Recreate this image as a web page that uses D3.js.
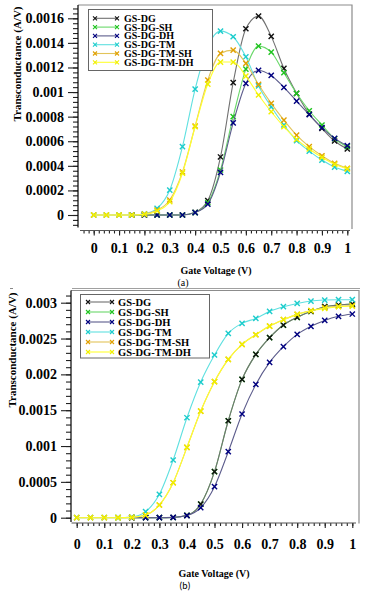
<!DOCTYPE html>
<html>
<head>
<meta charset="utf-8">
<script src="https://cdn.jsdelivr.net/npm/d3@7"></script>
<style>
  body { margin: 0; background: #fff; }
  svg { display: block; }
  text { font-family: "Liberation Serif", "Times New Roman", serif; font-weight: bold; fill: #000; }
</style>
</head>
<body>
<div id="vis"></div>
<script>
// gate voltage samples (V)
const voltage = [0, 0.05, 0.1, 0.15, 0.2, 0.25, 0.3, 0.35, 0.4, 0.45, 0.5, 0.55, 0.6, 0.65, 0.7, 0.75, 0.8, 0.85, 0.9, 0.95, 1]

const seriesNames = ['GS-DG', 'GS-DG-SH', 'GS-DG-DH', 'GS-DG-TM', 'GS-DG-TM-SH', 'GS-DG-TM-DH']

// (a) transconductance (A/V)
const topDG   = [null, null, null, 0, 0, 0, 0, 0, 0.000022, 0.000117, 0.000472, 0.001076, 0.001515, 0.001618, 0.001453, 0.001192, 0.00099, 0.00082, 0.000705, 0.000602, 0.000537]
const topSH   = [null, null, null, 0, 0, 0, 0, 0, 0.00002, 0.0001, 0.000366, 0.0008, 0.001187, 0.001374, 0.001325, 0.001157, 0.00099, 0.000848, 0.000732, 0.00062, 0.000555]
const topDH   = [null, null, null, 0, 0, 0, 0, 0, 0.00002, 0.000089, 0.000347, 0.00075, 0.00107, 0.001176, 0.001135, 0.001038, 0.000927, 0.000816, 0.00071, 0.000623, 0.000564]
const topTM   = [0, 0, 0, 0, 0.00001, 0.000054, 0.000203, 0.000556, 0.001024, 0.001369, 0.001496, 0.00145, 0.001287, 0.00105, 0.00088, 0.000732, 0.000605, 0.00052, 0.000447, 0.00039, 0.000355]
const topTMSH = [0, 0, 0, 0, 0.000008, 0.00004, 0.000122, 0.00035, 0.000724, 0.001098, 0.001314, 0.001341, 0.001233, 0.001062, 0.000908, 0.000772, 0.00065, 0.000556, 0.000482, 0.00042, 0.000379]
const topTMDH = [0, 0, 0, 0, 0.000005, 0.000033, 0.000108, 0.00034, 0.000718, 0.001065, 0.001244, 0.001244, 0.00113, 0.000976, 0.00084, 0.000718, 0.000615, 0.000537, 0.000469, 0.000412, 0.000375]

// (b) transconductance (A/V)
const botDG   = [null, null, null, null, 0, 0, 0, 0.000003, 0.000033, 0.00019, 0.000642, 0.001353, 0.00193, 0.002279, 0.002512, 0.002688, 0.002795, 0.00288, 0.002944, 0.002967, 0.002981]
const botSH   = [null, null, null, 0, 0, 0, 0, 0.000003, 0.000033, 0.00019, 0.000642, 0.001353, 0.00193, 0.002279, 0.002512, 0.002688, 0.002795, 0.00288, 0.002944, 0.002967, 0.002981]
const botDH   = [null, null, null, null, 0, 0, 0, 0.000005, 0.00003, 0.00014, 0.000433, 0.000921, 0.001447, 0.00186, 0.002167, 0.002386, 0.002558, 0.00267, 0.002753, 0.00281, 0.002842]
const botTM   = [0, 0, 0, 0, 0.00001, 0.000084, 0.000326, 0.000805, 0.001395, 0.001893, 0.00227, 0.002572, 0.002712, 0.002781, 0.002879, 0.002944, 0.00299, 0.003023, 0.003037, 0.003042, 0.003042]
const botTMSH = [0, 0, 0, 0, 0.000005, 0.000037, 0.000177, 0.000488, 0.000981, 0.001488, 0.001898, 0.002209, 0.002419, 0.002553, 0.002674, 0.002763, 0.002837, 0.00289, 0.00293, 0.00295, 0.00296]
const botTMDH = [0, 0, 0, 0, 0.000005, 0.000037, 0.000177, 0.000488, 0.000981, 0.001488, 0.001898, 0.002209, 0.002419, 0.002553, 0.002674, 0.002763, 0.002837, 0.002888, 0.002921, 0.002944, 0.002953]

// tick labels
const xTickValues = [0, 0.1, 0.2, 0.3, 0.4, 0.5, 0.6, 0.7, 0.8, 0.9, 1]
const xTickLabels = ['0', '0.1', '0.2', '0.3', '0.4', '0.5', '0.6', '0.7', '0.8', '0.9', '1']
const topYTickValues = [0, 0.0002, 0.0004, 0.0006, 0.0008, 0.001, 0.0012, 0.0014, 0.0016]
const topYTickLabels = ['0', '0.0002', '0.0004', '0.0006', '0.0008', '0.001', '0.0012', '0.0014', '0.0016']
const botYTickValues = [0, 0.0005, 0.001, 0.0015, 0.002, 0.0025, 0.003]
const botYTickLabels = ['0', '0.0005', '0.001', '0.0015', '0.002', '0.0025', '0.003']

// styling per series: line colour, marker colour
const lineColors   = ['#707070', '#6ad86a', '#5c5c8c', '#5fe0e0', '#e2c45a', '#ffff30']
const markerColors = ['#111111', '#1fc41f', '#000080', '#1ccccc', '#e0a000', '#f0f000']

const svg = d3.select('#vis').append('svg').attr('width', 366).attr('height', 595)

const panels = [
    {series: [topDG, topSH, topDH, topTM, topTMSH, topTMDH], order: [0, 1, 2, 3, 4, 5],
     yTicks: topYTickValues, yLabels: topYTickLabels, yMinorStep: 0.00004,
     x0: 93.7, x1: 347.3, y0: 215, yMaxV: 0.0016, y1: 18.3,
     axisX: 78, frameTop: 5, frameRight: 352, yAxisBottom: 227.5,
     xAxisY: 230.5, xAxisStart: 80, xAxisEnd: 350, xPad: 8,
     legend: {x: 88.5, y: 9.5, w: 124, h: 61, row0: 18.3, rowStep: 8.8, lx0: 95, lx1: 117, tx: 124, fs: 10},
     ylab: {x: 17.5, y: 64}, xlab: {x: 216, y: 274}, tag: {text: '(a)', x: 183, y: 286, family: '"Liberation Serif", serif'}},
    {series: [botDG, botSH, botDH, botTM, botTMSH, botTMDH], order: [1, 0, 2, 3, 4, 5],
     yTicks: botYTickValues, yLabels: botYTickLabels, yMinorStep: 0.0001,
     x0: 76.7, x1: 352.3, y0: 517.7, yMaxV: 0.003, y1: 302.7,
     axisX: 71, frameTop: 290.5, frameRight: 359, yAxisBottom: 522,
     xAxisY: 523, xAxisStart: 71.5, xAxisEnd: 356, xPad: 11,
     legend: {x: 80.5, y: 294.5, w: 129, h: 63.5, row0: 302, rowStep: 10, lx0: 88, lx1: 112, tx: 118, fs: 10.5},
     ylab: {x: 12, y: 350}, xlab: {x: 214, y: 577}, tag: {text: '(b)', x: 185, y: 589, family: 'Carlito, "Liberation Sans", sans-serif'}}
]

const cross = 'M-2.6,-2.6L2.6,2.6M-2.6,2.6L2.6,-2.6'

panels.forEach(p => {
    const x = d3.scaleLinear().domain([0, 1]).range([p.x0, p.x1])
    const y = d3.scaleLinear().domain([0, p.yMaxV]).range([p.y0, p.y1])
    const g = svg.append('g')

    // frame (top + right)
    g.append('path')
        .attr('d', `M${p.axisX},${p.frameTop}H${p.frameRight}V${p.yAxisBottom + 1.5}`)
        .attr('fill', 'none').attr('stroke', '#8c8c8c').attr('stroke-width', 1.2)

    // y axis
    const yMinors = d3.range(0, p.yMaxV * 1.08, p.yMinorStep)
        .concat([-p.yMinorStep, -2 * p.yMinorStep])
        .filter(v => y(v) <= p.yAxisBottom && y(v) >= p.frameTop)
    g.append('g').attr('transform', `translate(${p.axisX},0)`)
        .call(d3.axisLeft(y).tickValues(yMinors).tickSize(5).tickFormat(''))
        .call(a => a.select('.domain').remove())
    const yAx = g.append('g').attr('transform', `translate(${p.axisX},0)`)
        .call(d3.axisLeft(y).tickValues(p.yTicks).tickSize(10).tickPadding(4).tickFormat((d, i) => p.yLabels[i]))
    yAx.select('.domain').remove()
    yAx.selectAll('text').attr('font-size', 14).attr('font-family', null)
    g.append('line').attr('x1', p.axisX).attr('x2', p.axisX)
        .attr('y1', p.frameTop).attr('y2', p.yAxisBottom).attr('stroke', '#000').attr('stroke-width', 1.2)
    g.selectAll('.tick line').attr('stroke', '#222').attr('stroke-width', 1.1)

    // x axis
    const xMinors = d3.range(-0.04, 1.001, 0.02).filter(v => x(v) >= p.xAxisStart)
    const xg = g.append('g').attr('transform', `translate(0,${p.xAxisY})`)
    xg.call(d3.axisBottom(x).tickValues(xMinors).tickSize(3).tickFormat(''))
        .call(a => a.select('.domain').remove())
    const xAx = xg.append('g')
        .call(d3.axisBottom(x).tickValues(xTickValues).tickSize(5).tickPadding(p.xPad).tickFormat((d, i) => xTickLabels[i]))
    xAx.select('.domain').remove()
    xAx.selectAll('text').attr('font-size', 14).attr('font-family', null)
    xg.append('line').attr('x1', p.xAxisStart).attr('x2', p.xAxisEnd).attr('stroke', '#555').attr('stroke-width', 1.1)
    xg.selectAll('.tick line').attr('stroke', '#222').attr('stroke-width', 1.1)

    // curves
    const line = d3.line()
        .defined(d => d[1] !== null)
        .x(d => x(d[0])).y(d => y(d[1]))
        .curve(d3.curveMonotoneX)
    p.order.forEach(k => {
        const pts = voltage.map((v, i) => [v, p.series[k][i]])
        g.append('path').datum(pts.filter(d => d[1] !== null))
            .attr('d', line).attr('fill', 'none')
            .attr('stroke', lineColors[k]).attr('stroke-width', 1.1)
        g.selectAll(null).data(pts.filter(d => d[1] !== null)).enter()
            .append('path')
            .attr('d', cross)
            .attr('transform', d => `translate(${x(d[0])},${y(d[1])})`)
            .attr('stroke', markerColors[k]).attr('stroke-width', 1.4).attr('fill', 'none')
    })

    // legend
    const L = p.legend
    g.append('rect').attr('x', L.x).attr('y', L.y).attr('width', L.w).attr('height', L.h)
        .attr('fill', '#fff').attr('stroke', '#666').attr('stroke-width', 1)
    seriesNames.forEach((name, k) => {
        const cy = L.row0 + k * L.rowStep
        g.append('line').attr('x1', L.lx0).attr('x2', L.lx1).attr('y1', cy).attr('y2', cy)
            .attr('stroke', lineColors[k]).attr('stroke-width', 1.1)
        ;[L.lx0, L.lx1].forEach(mx => g.append('path').attr('d', 'M-2,-2L2,2M-2,2L2,-2')
            .attr('transform', `translate(${mx},${cy})`)
            .attr('stroke', markerColors[k]).attr('stroke-width', 1.1))
        g.append('text').attr('x', L.tx).attr('y', cy).attr('dy', '0.35em')
            .attr('font-size', L.fs).text(name)
    })

    // axis titles
    g.append('text').attr('transform', `translate(${p.ylab.x},${p.ylab.y}) rotate(-90)`)
        .attr('text-anchor', 'middle').attr('dy', '0.35em').attr('font-size', 11)
        .text('Transconductance (A/V)')
    g.append('text').attr('x', p.xlab.x).attr('y', p.xlab.y)
        .attr('text-anchor', 'middle').attr('font-size', 10).text('Gate Voltage (V)')
    g.append('text').attr('x', p.tag.x).attr('y', p.tag.y)
        .attr('text-anchor', 'middle').attr('font-size', 10)
        .style('font-family', p.tag.family).style('font-weight', 'normal').text(p.tag.text)
})

// separator under (a)
svg.append('line').attr('x1', 72).attr('x2', 360).attr('y1', 288.5).attr('y2', 288.5)
    .attr('stroke', '#a0a0a0').attr('stroke-width', 1.2)
svg.append('line').attr('x1', 10).attr('x2', 13).attr('y1', 288.5).attr('y2', 288.5)
    .attr('stroke', '#888').attr('stroke-width', 1)
</script>
</body>
</html>
